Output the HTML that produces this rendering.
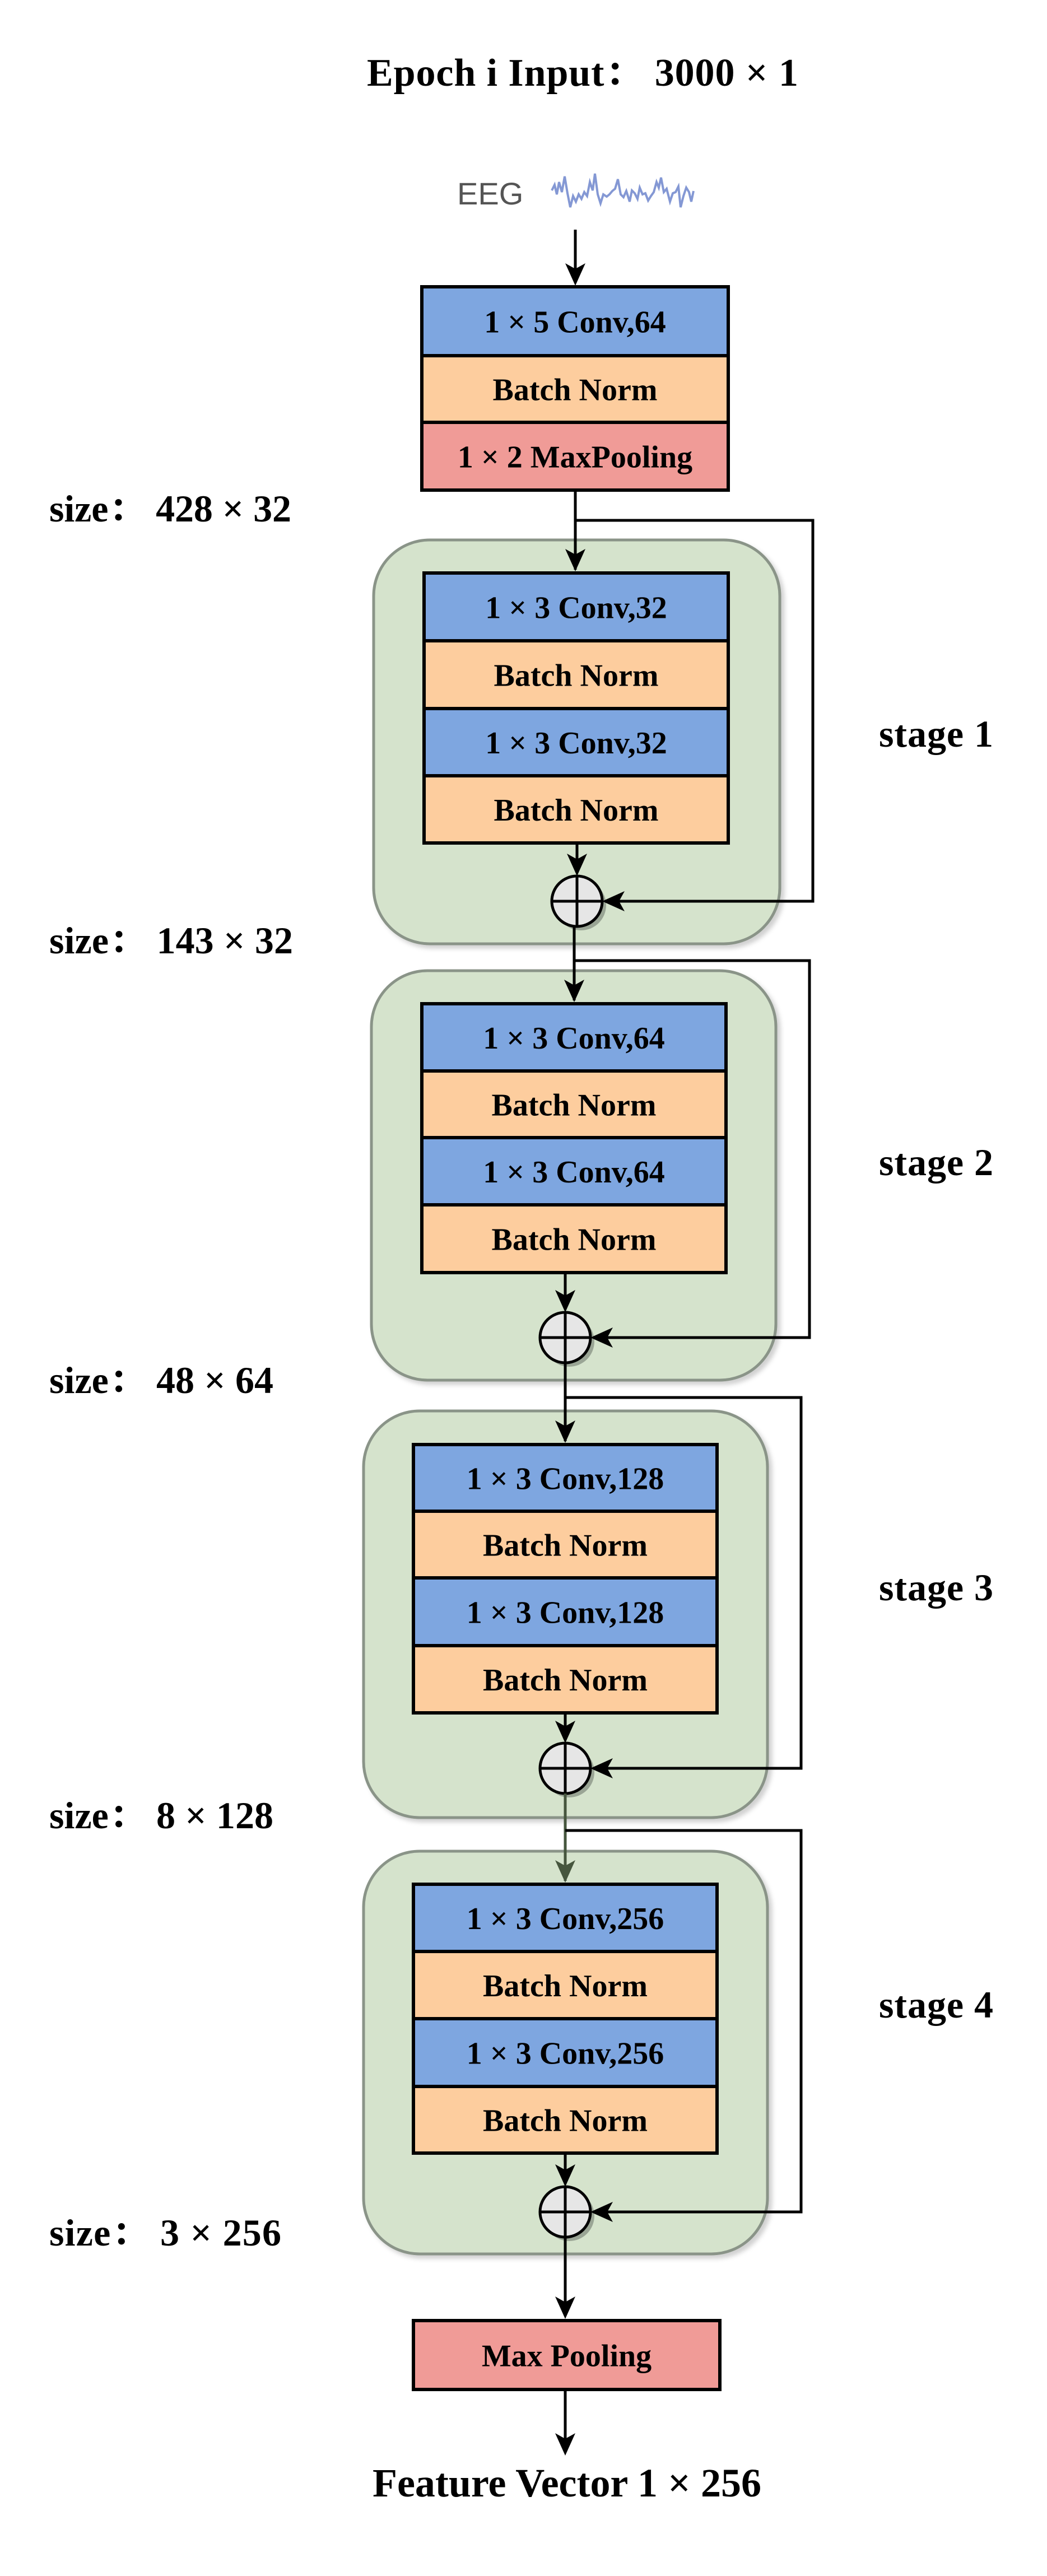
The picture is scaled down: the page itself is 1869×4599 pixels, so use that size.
<!DOCTYPE html>
<html><head><meta charset="utf-8"><style>
html,body{margin:0;padding:0;background:#fff;}
svg{display:block;}
text{font-family:"Liberation Serif","Noto Serif CJK SC",serif;font-weight:bold;fill:#000;}
</style></head><body>
<svg id="d" width="1869" height="4599" viewBox="0 0 1869 4599" xmlns="http://www.w3.org/2000/svg">
<defs>
<filter id="sh" x="-10%" y="-10%" width="130%" height="130%"><feDropShadow dx="6" dy="6" stdDeviation="4" flood-color="#000" flood-opacity="0.18"/></filter>
</defs>
<text x="655" y="153" font-size="70" textLength="770">Epoch i Input：  3000 × 1</text>
<text x="816" y="365" font-size="56" style="font-family:'Liberation Sans',sans-serif;font-weight:normal;fill:#555">EEG</text>
<polyline transform="translate(0,25)" fill="none" stroke="#8498d4" stroke-width="4" points="985,315 990,305 994,322 998,300 1003,318 1008,290 1013,320 1018,345 1023,325 1028,335 1033,322 1038,330 1043,318 1048,325 1053,300 1058,315 1062,285 1067,322 1072,338 1077,322 1083,326 1088,322 1093,316 1098,312 1103,295 1108,322 1113,327 1118,316 1124,335 1128,315 1133,320 1138,330 1142,310 1147,322 1152,320 1157,333 1162,325 1167,318 1172,300 1176,310 1180,292 1185,318 1190,312 1196,335 1201,320 1206,318 1211,308 1215,345 1220,325 1225,310 1230,318 1234,335 1238,316"/>
<g id="g"></g>
<text x="88" y="931" font-size="68" textLength="432">size：  428 × 32</text>
<text x="88" y="1702" font-size="68" textLength="435">size：  143 × 32</text>
<text x="88" y="2487" font-size="68" textLength="400">size：  48 × 64</text>
<text x="88" y="3264" font-size="68" textLength="400">size：  8 × 128</text>
<text x="88" y="4009" font-size="68" textLength="414">size：  3 × 256</text>
<text x="1569" y="1333" font-size="68" textLength="204">stage 1</text>
<text x="1569" y="2098" font-size="68" textLength="204">stage 2</text>
<text x="1569" y="2857" font-size="68" textLength="204">stage 3</text>
<text x="1569" y="3602" font-size="68" textLength="204">stage 4</text>
<text x="665" y="4457" font-size="72" textLength="694">Feature Vector 1 × 256</text>
</svg>
<script>
const NS='http://www.w3.org/2000/svg';
const G=document.getElementById('g');
const BLUE='#7ea6e0',ORANGE='#fdcd9e',RED='#f09b97';
const stageBoxes=[[667,964,1392,1685],[663,1733,1385,2464],[649,2519,1370,3245],[649,3305,1370,4024]];
const stageBlockX=[[757,1300],[753,1296],[738,1280],[738,1280]];
const stageBlockTops=[[1023,1144,1265,1385,1505],[1792,1912,2031,2151,2272],[2579,2698,2817,2938,3058],[3364,3484,3604,3725,3844]];
const stageConv=['1 × 3 Conv,32','1 × 3 Conv,64','1 × 3 Conv,128','1 × 3 Conv,256'];
const stageInX=[1027,1025,1009,1009];
const stageCircle=[[1030,1609],[1009,2388],[1009,3157],[1009,3949]];
const skipY=[929,1715,2495,3268];
const skipX=[1451,1445,1430,1430];
function el(t,a,p){const e=document.createElementNS(NS,t);for(const k in a)e.setAttribute(k,a[k]);(p||G).appendChild(e);return e;}
function line(x1,y1,x2,y2,c,name){const e=el('line',{x1,y1,x2,y2,stroke:c||'#000','stroke-width':5});

return e;}
function arrowDown(x,y,c){const e=el('polygon',{points:`${x},${y} ${x-18},${y-40} ${x},${y-30} ${x+18},${y-40}`,fill:c||'#000'});

}
function arrowLeft(x,y){const e=el('polygon',{points:`${x},${y} ${x+40},${y-18} ${x+30},${y} ${x+40},${y+18}`,fill:'#000'});

}
function block(x1,x2,y1,y2,fill,label,name){
const r=el('rect',{x:x1,y:y1,width:x2-x1,height:y2-y1,fill,stroke:'#000','stroke-width':6});


const t=el('text',{x:(x1+x2)/2,y:(y1+y2)/2+20,'font-size':56,'text-anchor':'middle'});
t.textContent=label;

}
line(1027,410,1027,505);arrowDown(1027,510);
block(753,1300,512,635,BLUE,'1 × 5 Conv,64','conv-1x5-block');
block(753,1300,635,754,ORANGE,'Batch Norm','batch-norm-block');
block(753,1300,754,875,RED,'1 × 2 MaxPooling','maxpool-1x2-block');
for(let s=0;s<4;s++){
 const [bx1,by1,bx2,by2]=stageBoxes[s];
 const b=el('rect',{x:bx1,y:by1,width:bx2-bx1,height:by2-by1,rx:100,ry:100,fill:'#d5e3cc',stroke:'#8a9488','stroke-width':5,filter:'url(#sh)'});
 
 
 const ix=stageInX[s];const [cx,cy]=stageCircle[s];
 const prevBottom=s===0?875:stageCircle[s-1][1]+45;
 const tops=stageBlockTops[s];const [x1,x2]=stageBlockX[s];
 line(ix,prevBottom,ix,tops[0]-6,s===3?'#46563e':'#000');arrowDown(ix,tops[0]-3,s===3?'#46563e':'#000');
 const labels=[stageConv[s],'Batch Norm',stageConv[s],'Batch Norm'];
 const cols=[BLUE,ORANGE,BLUE,ORANGE];
 for(let i=0;i<4;i++)block(x1,x2,tops[i],tops[i+1],cols[i],labels[i],'stage-'+(s+1)+(i%2?'-batch-norm-':'-conv-')+(i>>1?2:1));
 line(cx,tops[4],cx,cy-50);arrowDown(cx,cy-45);
 const sc=el('circle',{cx:cx+7,cy:cy+7,r:45,fill:'#9aa595'});
 
 
 const c=el('circle',{cx,cy,r:45,fill:'#e6e6e6',stroke:'#000','stroke-width':5});
 
 
 line(cx-45,cy,cx+45,cy);line(cx,cy-45,cx,cy+45);
 const sy=skipY[s],sx=skipX[s];
 line(ix,sy,sx,sy,'#000','skip-connection');line(sx,sy-2.5,sx,cy+2.5,'#000','skip-connection');line(sx+2.5,cy,cx+50,cy,'#000','skip-connection');arrowLeft(cx+45,cy);
}
line(1009,3994,1009,4135);arrowDown(1009,4140);
block(738,1285,4143,4266,RED,'Max Pooling','final-maxpool-block');
line(1009,4266,1009,4378);arrowDown(1009,4384);
</script>
</body></html>
